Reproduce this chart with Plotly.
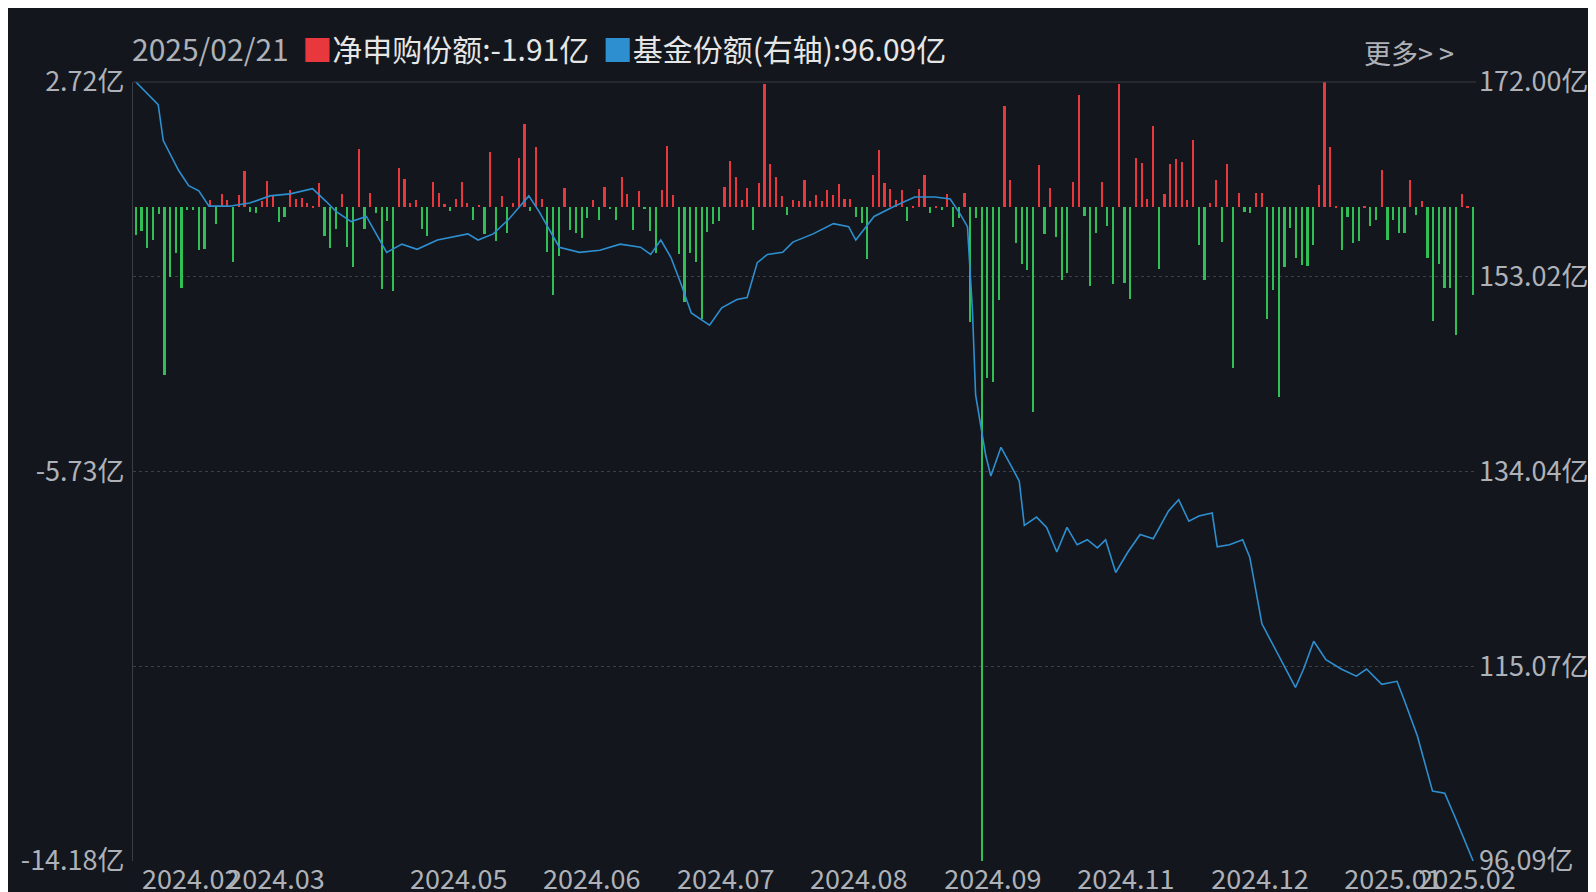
import plotly.graph_objects as go

flows = [
 -0.59,-0.52,-0.88,-0.71,-0.15,-3.63,-1.5,-0.99,-1.74,-0.06,-0.06,-0.93,-0.9,0.16,-0.35,0.29,0.16,-1.19,0.26,0.79,
 -0.11,-0.13,0.13,0.57,0.25,-0.31,-0.21,0.37,0.18,0.2,0.09,0.01,0.53,-0.62,-0.88,-0.46,0.29,-0.85,-1.3,1.27,
 -0.46,0.31,-0.12,-1.77,-0.29,-1.81,0.85,0.62,0.09,0.15,-0.46,-0.63,0.54,0.31,0.07,-0.07,0.18,0.54,0.09,-0.27,0.05,
 -0.57,1.21,-0.74,0.24,-0.55,0.1,1.08,1.8,-0.07,1.3,0.18,-0.96,-1.91,-1.05,0.41,-0.5,-0.56,-0.66,-0.24,0.15,
 -0.27,0.44,-0.04,-0.27,0.66,0.29,-0.49,0.35,-0.02,-0.52,-0.98,0.37,1.34,0.26,-1.02,-2.05,-0.98,-1.19,-2.42,
 -0.54,-0.35,-0.29,0.44,1.01,0.66,0.15,0.42,-0.5,0.53,2.67,0.94,0.66,0.24,-0.17,0.15,0.13,0.59,0.13,0.27,0.13,
 0.37,0.26,0.51,0.18,0.19,-0.21,-0.34,-1.13,0.71,1.25,0.52,0.4,0.16,0.37,-0.29,0.02,0.39,0.7,-0.13,
 0.03,-0.06,0.29,-0.43,-0.24,0.31,-2.48,-0.22,-14.18,-3.7,-3.78,-2.0,2.2,0.59,-0.77,-1.22,-1.35,-4.44,0.92,
 -0.57,0.42,-0.65,-1.58,-1.42,0.54,2.44,-0.19,-1.7,-0.55,0.54,-0.41,-1.66,2.67,-1.63,-1.99,1.08,0.97,
 0.18,1.76,-1.33,0.29,0.95,1.06,0.99,0.16,1.47,-0.82,-1.58,0.09,0.59,-0.75,0.95,-3.48,0.32,-0.11,-0.13,0.31,
 0.31,-2.42,-1.79,-4.12,-1.3,-0.44,-1.09,-1.26,-1.28,-0.82,0.48,2.72,1.32,0.02,-0.93,-0.21,-0.77,-0.74,0.02,-0.4,
 -0.27,0.82,-0.71,-0.27,-0.55,-0.55,0.59,-0.17,0.13,-1.1,-2.47,-1.22,-1.74,-1.75,-2.76,0.29,0.02,-1.91]
N = len(flows)

# blue line: (position along plot width in px of a 1317-wide plot, fund shares in 亿)
line_pos = [0,22,27,42,52,62,72,92,112,132,152,174,187,197,212,227,247,262,277,297,327,337,352,367,387,397,
            417,437,457,477,497,507,517,527,537,547,565,577,592,602,612,622,637,647,667,687,702,709,727,747,767,787,
            802,812,819,824,827,837,842,852,862,870,875,887,897,907,917,927,937,947,955,965,977,989,1002,1017,1027,
            1037,1047,1060,1065,1077,1090,1097,1109,1122,1142,1150,1160,1172,1187,1202,1212,1227,1242,1249,1262,
            1277,1289,1299,1309,1317]
line_val = [172.0,169.8,166.3,163.4,161.9,161.4,159.9,159.9,160.2,160.9,161.1,161.6,160.4,159.4,158.4,158.9,155.4,
            156.2,155.7,156.6,157.2,156.6,157.2,158.6,160.9,159.4,155.9,155.4,155.6,156.2,155.9,155.2,156.6,154.9,
            152.3,149.5,148.3,150.0,150.8,151.0,154.4,155.2,155.4,156.4,157.2,158.2,157.9,156.6,158.9,159.9,160.8,
            160.8,160.6,159.1,157.9,149.5,141.5,135.6,133.6,136.4,134.6,133.1,128.8,129.6,128.6,126.2,128.6,126.9,
            127.4,126.6,127.4,124.2,126.2,127.9,127.5,130.2,131.3,129.2,129.7,130.0,126.7,126.9,127.4,125.7,119.2,
            116.7,113.0,114.8,117.5,115.7,114.8,114.1,114.8,113.3,113.6,111.8,108.3,102.9,102.7,100.4,98.1,96.09]

left_ticks = [2.72, -5.73, -14.18]
right_ticks = [172.00, 153.02, 134.04, 115.07, 96.09]
x_labels = ["2024.02","2024.03","2024.05","2024.06","2024.07","2024.08","2024.09","2024.11","2024.12","2025.01","2025.02"]
x_label_pos = [0,84,264,395,527,658,790,921,1053,1184,1257]

W = 1317.0
line_x = [p / W * (N - 1) for p in line_pos]
tick_x = [(p + 54) / W * (N - 1) for p in x_label_pos]

RED, GREEN, BLUE = "#e8383d", "#2fbf55", "#2e8fd0"
BG = "#13161c"
TXT = "#aeb2b8"

fig = go.Figure()
fig.add_trace(go.Bar(x=list(range(N)), y=flows, width=0.38,
                     marker=dict(color=[RED if v >= 0 else GREEN for v in flows], line_width=0),
                     yaxis="y", showlegend=False, hoverinfo="skip"))
fig.add_trace(go.Scatter(x=line_x, y=line_val, mode="lines", line=dict(color=BLUE, width=1.6),
                         yaxis="y2", showlegend=False, hoverinfo="skip"))

font = dict(family="Noto Sans CJK SC", size=27, color=TXT)
fig.update_layout(
    width=1596, height=892, paper_bgcolor=BG, plot_bgcolor=BG,
    margin=dict(l=125, r=128, t=74, b=39, autoexpand=False), bargap=0,
    font=font,
    xaxis=dict(range=[-0.5, N - 0.5], tickvals=tick_x, ticktext=x_labels, tickangle=0, automargin=False,
               showgrid=False, zeroline=False, showline=False, ticks="", tickfont=font),
    yaxis=dict(range=[-14.18, 2.72], tickvals=left_ticks, ticktext=[f"{v:.2f}亿" for v in left_ticks],
               showgrid=False, zeroline=False, showline=True, linecolor="#3a3e45", ticks="",
               tickfont=font, ticklabelstandoff=2, automargin=False),
    yaxis2=dict(range=[96.09, 172.0], overlaying="y", side="right", tickvals=right_ticks,
                ticktext=[f"{v:.2f}亿" for v in right_ticks], showgrid=True, gridcolor="#3c4048",
                griddash="dot", gridwidth=1, zeroline=False, showline=False, ticks="",
                tickfont=font, ticklabelstandoff=2, automargin=False),
    shapes=[dict(type="line", xref="paper", yref="paper", x0=0, x1=1, y0=1, y1=1,
                 line=dict(color="#3a3e45", width=1))],
    annotations=[
        dict(xref="paper", yref="paper", x=-0.002, y=1.0, yshift=34, xanchor="left", yanchor="middle",
             showarrow=False,
             text=(f"<span style='color:{TXT}'>2025/02/21  </span>"
                   f"<span style='color:{RED}'>■</span><span style='color:#e6e6e6'>净申购份额:-1.91亿  </span>"
                   f"<span style='color:{BLUE}'>■</span><span style='color:#e6e6e6'>基金份额(右轴):96.09亿</span>"),
             font=dict(family="Noto Sans CJK SC", size=30)),
        dict(xref="paper", yref="paper", x=0.985, y=1.0, yshift=30, xanchor="right", yanchor="middle",
             showarrow=False, text="更多> >", font=dict(family="Noto Sans CJK SC", size=27, color=TXT)),
    ],
)
fig.write_html("out.html")
